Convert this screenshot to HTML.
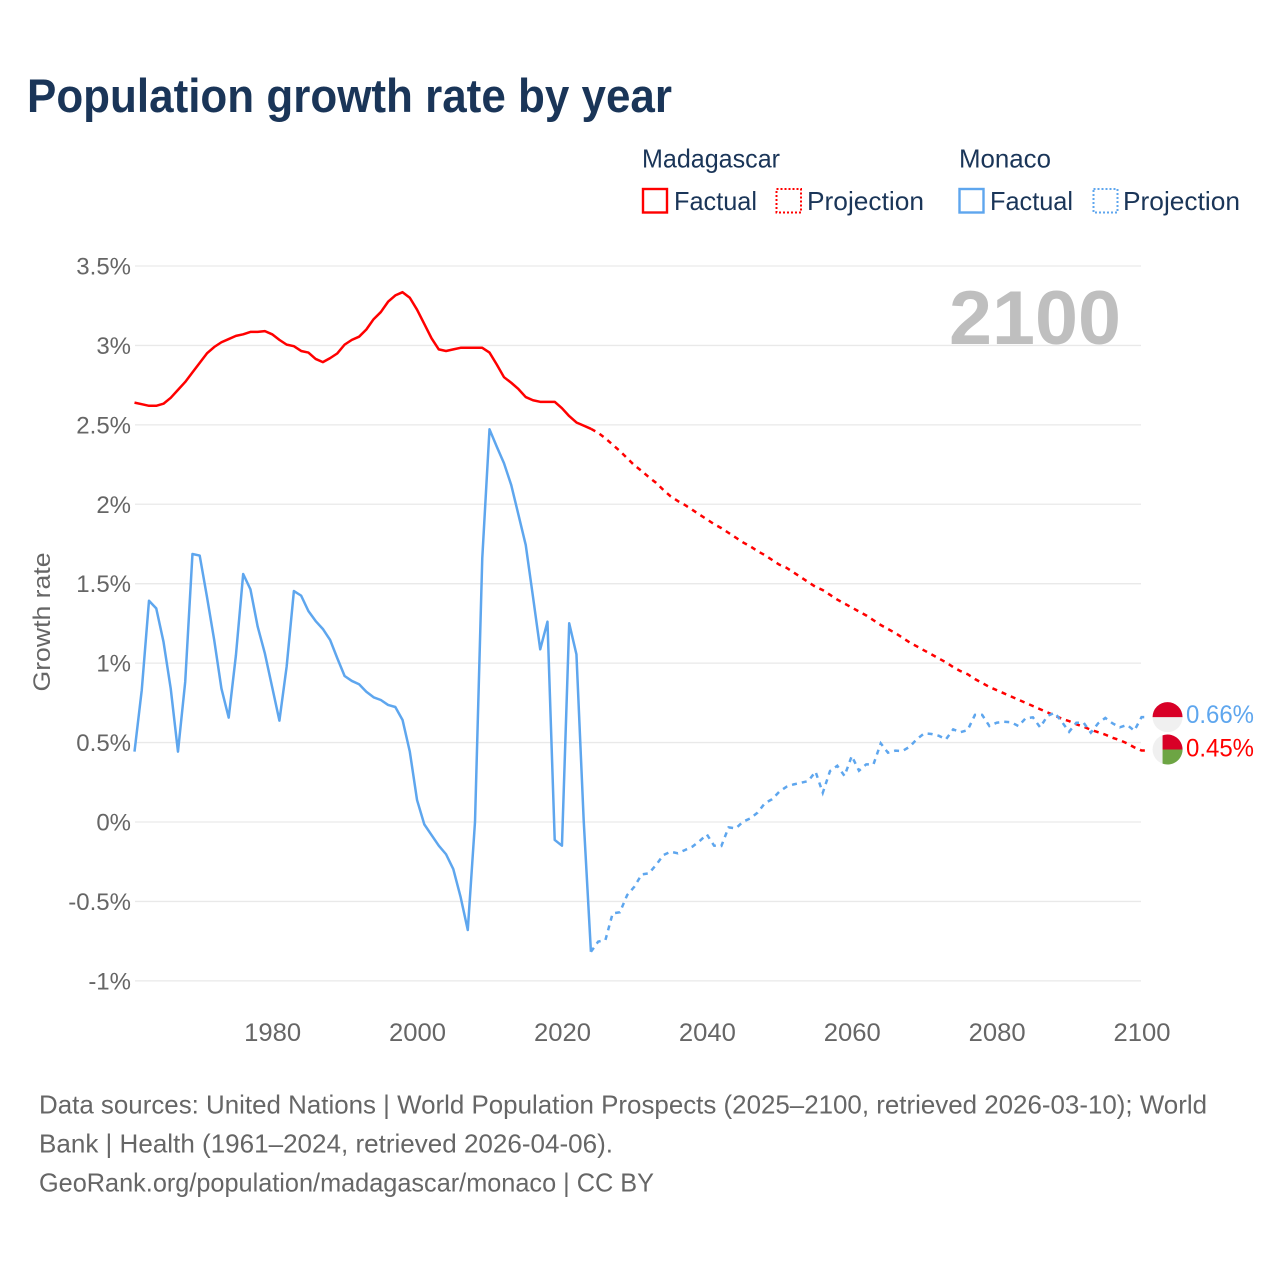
<!DOCTYPE html>
<html lang="en">
<head>
<meta charset="utf-8">
<title>Population growth rate by year</title>
<style>
  html, body { margin: 0; padding: 0; background: #fff; }
  svg { display: block; font-family: "Liberation Sans", sans-serif; }
</style>
</head>
<body>
<svg id="chart" width="1280" height="1280" viewBox="0 0 1280 1280" xmlns="http://www.w3.org/2000/svg">
  <rect width="1280" height="1280" fill="#ffffff"/>
  <text x="27" y="112" font-size="47" font-weight="700" fill="#1a3558" textLength="645" lengthAdjust="spacingAndGlyphs">Population growth rate by year</text>

  <g fill="#1a3558" font-size="26">
    <text x="642" y="167.5" textLength="138" lengthAdjust="spacingAndGlyphs">Madagascar</text>
    <text x="959" y="167.5" textLength="92" lengthAdjust="spacingAndGlyphs">Monaco</text>
    <rect x="643" y="189" width="24" height="23.5" fill="none" stroke="#ff0000" stroke-width="2.4"/>
    <text x="674" y="210" textLength="83" lengthAdjust="spacingAndGlyphs">Factual</text>
    <rect x="776.5" y="189" width="24.5" height="23.5" fill="none" stroke="#ff0000" stroke-width="2" stroke-dasharray="2 2"/>
    <text x="807" y="210" textLength="117" lengthAdjust="spacingAndGlyphs">Projection</text>
    <rect x="959.5" y="189" width="24" height="23.5" fill="none" stroke="#5ea6ee" stroke-width="2.4"/>
    <text x="990" y="210" textLength="83" lengthAdjust="spacingAndGlyphs">Factual</text>
    <rect x="1093.5" y="189" width="24" height="23.5" fill="none" stroke="#5ea6ee" stroke-width="2" stroke-dasharray="2 2"/>
    <text x="1123" y="210" textLength="117" lengthAdjust="spacingAndGlyphs">Projection</text>
  </g>

  <g id="grid"></g>
  <g id="y-ticks"></g>
  <g id="x-ticks"></g>
  <text transform="translate(50 622) rotate(-90)" text-anchor="middle" font-size="24" fill="#666666" textLength="139" lengthAdjust="spacingAndGlyphs">Growth rate</text>
  <text x="949" y="344" font-size="76" font-weight="700" fill="#bfbfbf" textLength="172" lengthAdjust="spacingAndGlyphs">2100</text>

  <g id="series"></g>
  <g id="ends"></g>

  <g font-size="26" fill="#666666">
    <text x="39" y="1113.5" textLength="1168" lengthAdjust="spacingAndGlyphs">Data sources: United Nations | World Population Prospects (2025–2100, retrieved 2026-03-10); World</text>
    <text x="39" y="1152.5" textLength="574" lengthAdjust="spacingAndGlyphs">Bank | Health (1961–2024, retrieved 2026-04-06).</text>
    <text x="39" y="1191.5" textLength="615" lengthAdjust="spacingAndGlyphs">GeoRank.org/population/madagascar/monaco | CC BY</text>
  </g>
</svg>
<script>
const factualStartYear = 1961;
const projectionStartYear = 2024;
const yTickValues = [3.5, 3, 2.5, 2, 1.5, 1, 0.5, 0, -0.5, -1];
const yTickLabels = ["3.5%", "3%", "2.5%", "2%", "1.5%", "1%", "0.5%", "0%", "-0.5%", "-1%"];
const xTickYears = [1980, 2000, 2020, 2040, 2060, 2080, 2100];

const madagascarFactual = [
  2.64, 2.63, 2.62, 2.62, 2.633, 2.67, 2.72, 2.77, 2.83, 2.89,
  2.95, 2.99, 3.02, 3.04, 3.06, 3.07, 3.085, 3.085, 3.09, 3.07,
  3.035, 3.005, 2.995, 2.965, 2.955, 2.915, 2.895, 2.92, 2.95, 3.005,
  3.035, 3.055, 3.10, 3.165, 3.21, 3.275, 3.315, 3.335, 3.30, 3.225,
  3.135, 3.045, 2.975, 2.965, 2.975, 2.985, 2.985, 2.985, 2.985, 2.955,
  2.88, 2.80, 2.765, 2.725, 2.675, 2.655, 2.645, 2.645, 2.645, 2.605,
  2.555, 2.515, 2.495, 2.475
];
const madagascarProjection = [
  2.475, 2.45, 2.415, 2.375, 2.335, 2.29, 2.245, 2.21, 2.17, 2.135,
  2.09, 2.05, 2.02, 1.995, 1.965, 1.935, 1.905, 1.875, 1.85, 1.82,
  1.79, 1.76, 1.735, 1.705, 1.68, 1.65, 1.62, 1.60, 1.57, 1.54,
  1.51, 1.48, 1.46, 1.43, 1.40, 1.375, 1.35, 1.325, 1.30, 1.27,
  1.24, 1.215, 1.19, 1.16, 1.13, 1.105, 1.08, 1.055, 1.03, 1.005,
  0.975, 0.95, 0.93, 0.90, 0.875, 0.85, 0.83, 0.81, 0.79, 0.77,
  0.75, 0.73, 0.71, 0.69, 0.67, 0.65, 0.635, 0.615, 0.60, 0.58,
  0.565, 0.55, 0.53, 0.515, 0.495, 0.47, 0.45
];
const monacoFactual = [
  0.443, 0.83, 1.393, 1.345, 1.135, 0.84, 0.443, 0.883, 1.687, 1.677,
  1.418, 1.146, 0.84, 0.657, 1.05, 1.561, 1.465, 1.23, 1.06, 0.85,
  0.638, 0.978, 1.454, 1.425, 1.328, 1.265, 1.215, 1.146, 1.03, 0.919,
  0.888, 0.867, 0.82, 0.785, 0.768, 0.737, 0.724, 0.642, 0.443, 0.138,
  -0.015, -0.082, -0.149, -0.203, -0.296, -0.47, -0.68, 0.002, 1.66, 2.472,
  2.363, 2.258, 2.121, 1.933, 1.744, 1.418, 1.087, 1.261, -0.113, -0.149,
  1.251, 1.055, 0.01, -0.817
];
const monacoProjection = [
  -0.817, -0.753, -0.743, -0.575, -0.568, -0.46, -0.407, -0.33, -0.323, -0.27,
  -0.208, -0.187, -0.197, -0.176, -0.155, -0.12, -0.078, -0.149, -0.151, -0.034,
  -0.04, 0.002, 0.023, 0.059, 0.118, 0.143, 0.191, 0.222, 0.237, 0.247,
  0.258, 0.317, 0.184, 0.321, 0.354, 0.29, 0.415, 0.323, 0.363, 0.363,
  0.495, 0.436, 0.449, 0.447, 0.474, 0.522, 0.558, 0.554, 0.543, 0.52,
  0.583, 0.565, 0.579, 0.674, 0.674, 0.604, 0.625, 0.631, 0.628, 0.604,
  0.653, 0.659, 0.596, 0.667, 0.688, 0.631, 0.568, 0.625, 0.625, 0.562,
  0.621, 0.655, 0.621, 0.596, 0.611, 0.575, 0.66
];

const NS = "http://www.w3.org/2000/svg";
const RED = "#ff0000";
const BLUE = "#5ea6ee";

function xScale(year) { return 134.5 + (year - 1961) * 7.245; }
function yScale(value) { return 822 - value * 158.86; }

function make(tag, attrs, parent, text) {
  const el = document.createElementNS(NS, tag);
  for (const k in attrs) el.setAttribute(k, attrs[k]);
  if (text !== undefined) el.textContent = text;
  parent.appendChild(el);
  return el;
}

const grid = document.getElementById("grid");
const yTicks = document.getElementById("y-ticks");
const xTicks = document.getElementById("x-ticks");
const seriesGroup = document.getElementById("series");
const ends = document.getElementById("ends");

yTickValues.forEach(function (v, i) {
  const line = make("line", { x1: 135, x2: 1141, y1: yScale(v), y2: yScale(v), stroke: "#e9e9e9", "stroke-width": 1.3 }, grid);
  
  
  const label = make("text", { x: 131, y: yScale(v) + 8.5, "text-anchor": "end", "font-size": 24, fill: "#666666" }, yTicks, yTickLabels[i]);
  
  
});

xTickYears.forEach(function (yr) {
  const label = make("text", { x: xScale(yr) + 0.5, y: 1041, "text-anchor": "middle", "font-size": 25, fill: "#666666", textLength: 57, lengthAdjust: "spacingAndGlyphs" }, xTicks, String(yr));
  
  
});

function linePath(values, startYear, extend) {
  const pts = values.map(function (v, i) {
    return xScale(startYear + i).toFixed(2) + "," + yScale(v).toFixed(2);
  });
  if (extend) {
    const last = values[values.length - 1];
    pts.push((xScale(startYear + values.length - 1) + 7).toFixed(2) + "," + yScale(last).toFixed(2));
  }
  return "M" + pts.join("L");
}

const madFactualLine = make("path", { d: linePath(madagascarFactual, factualStartYear, false), fill: "none", stroke: RED, "stroke-width": 2.5, "stroke-linejoin": "round" }, seriesGroup);



const madProjLine = make("path", { d: linePath(madagascarProjection, projectionStartYear, true), fill: "none", stroke: RED, "stroke-width": 2.5, "stroke-dasharray": "5 5" }, seriesGroup);



const monFactualLine = make("path", { d: linePath(monacoFactual, factualStartYear, false), fill: "none", stroke: BLUE, "stroke-width": 2.5, "stroke-linejoin": "round" }, seriesGroup);



const monProjLine = make("path", { d: linePath(monacoProjection, projectionStartYear, true), fill: "none", stroke: BLUE, "stroke-width": 2.5, "stroke-dasharray": "5 5" }, seriesGroup);



const monLast = monacoProjection[monacoProjection.length - 1];
const madLast = madagascarProjection[madagascarProjection.length - 1];
const flagX = xScale(2100) + 26;

const monFlag = make("g", { transform: "translate(" + flagX + " " + yScale(monLast) + ")" }, ends);


make("circle", { r: 15, fill: "#f0f0f0" }, monFlag);
make("path", { d: "M-15 0A15 15 0 0 1 15 0Z", fill: "#d80027" }, monFlag);

const madFlag = make("g", { transform: "translate(" + flagX + " " + (yScale(madLast) - 1) + ")" }, ends);


make("circle", { r: 15, fill: "#f0f0f0" }, madFlag);
make("path", { d: "M-5 0V-14.14A15 15 0 0 1 15 0Z", fill: "#d80027" }, madFlag);
make("path", { d: "M-5 0V14.14A15 15 0 0 0 15 0Z", fill: "#6da544" }, madFlag);

const monLabel = make("text", { x: 1186, y: yScale(monLast) + 6, "font-size": 25, fill: BLUE, textLength: 68, lengthAdjust: "spacingAndGlyphs" }, ends, monLast.toFixed(2) + "%");



const madLabel = make("text", { x: 1186, y: yScale(madLast) + 6, "font-size": 25, fill: RED, textLength: 68, lengthAdjust: "spacingAndGlyphs" }, ends, madLast.toFixed(2) + "%");


</script>
</body>
</html>
